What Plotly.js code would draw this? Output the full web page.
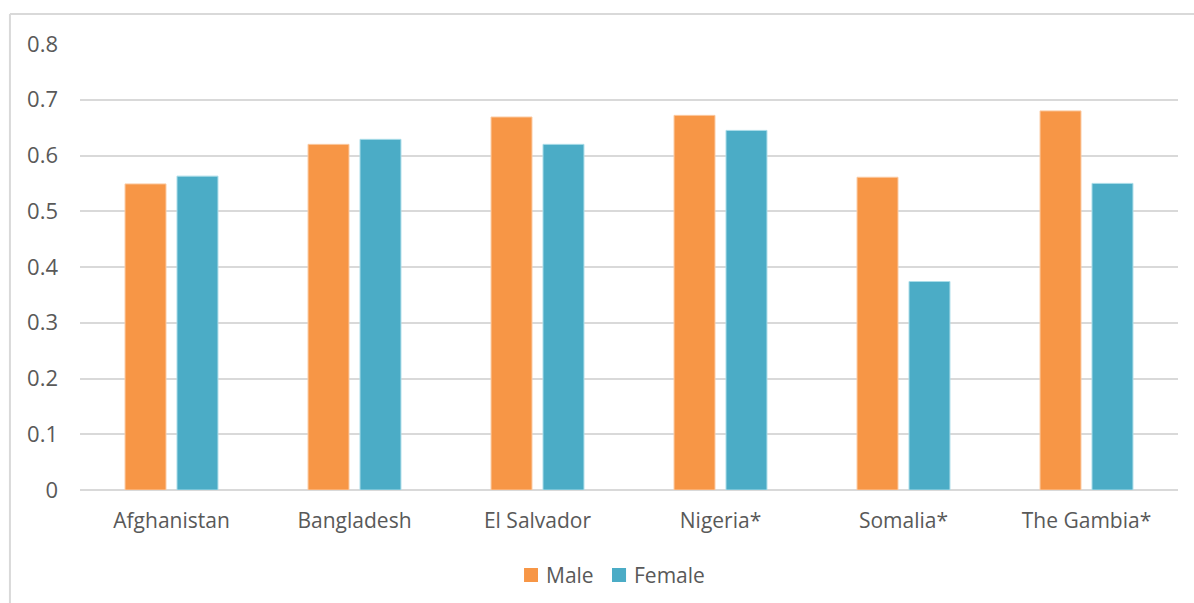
<!DOCTYPE html>
<html>
<head>
<meta charset="utf-8">
<script src="https://cdn.plot.ly/plotly-3.0.1.min.js"></script>
<style>
  html, body { margin: 0; padding: 0; background: #fff; }
  #chart { width: 1194px; height: 603px; }
</style>
</head>
<body>
<div id="chart"></div>
<script>
// Countries shown on the category axis
const countries = ['Afghanistan', 'Bangladesh', 'El Salvador', 'Nigeria*', 'Somalia*', 'The Gambia*'];
// Index values per country
const maleValues = [0.549, 0.620, 0.669, 0.672, 0.561, 0.680];
const femaleValues = [0.563, 0.629, 0.620, 0.645, 0.374, 0.550];
// Value axis ticks
const yTicks = [0, 0.1, 0.2, 0.3, 0.4, 0.5, 0.6, 0.7, 0.8];
const yTickLabels = ['0', '0.1', '0.2', '0.3', '0.4', '0.5', '0.6', '0.7', '0.8'];
// Series names and colours
const seriesNames = ['Male', 'Female'];
const seriesColors = ['#F79646', '#4BACC6'];
const seriesEdges = ['#FBC9A0', '#A9DCE8'];

const textColor = '#595959';
const fontFamily = '"Open Sans", "Noto Sans", sans-serif';

const traces = [maleValues, femaleValues].map((vals, i) => ({
  type: 'bar', name: seriesNames[i], x: countries, y: vals,
  marker: { color: seriesColors[i], line: { color: seriesEdges[i], width: 1 } },
  hoverinfo: 'x+y'
}));

// Legend keys laid out below the axis, in paper coordinates
const legendKeys = [
  { sq: [0.4044, 0.4171], tx: 0.4226 },
  { sq: [0.4845, 0.4973], tx: 0.5027 }
];
const legendShapes = legendKeys.map((k, i) => ({
  type: 'rect', xref: 'paper', yref: 'paper',
  x0: k.sq[0], x1: k.sq[1], y0: -0.2063, y1: -0.1749,
  fillcolor: seriesColors[i], line: { width: 0 }
}));
const legendTexts = legendKeys.map((k, i) => ({
  xref: 'paper', yref: 'paper', x: k.tx, y: -0.1906,
  xanchor: 'left', yanchor: 'middle', showarrow: false,
  text: seriesNames[i], font: { size: 21, color: textColor }
}));

const layout = {
  width: 1194, height: 603,
  margin: { l: 80, r: 16, t: 44, b: 113 },
  paper_bgcolor: '#fff', plot_bgcolor: '#fff',
  font: { family: fontFamily, color: textColor, size: 21 },
  barmode: 'group', bargap: 0.432, bargroupgap: 0.212,
  showlegend: false,
  xaxis: {
    type: 'category', showgrid: false, zeroline: false,
    showline: false, ticks: '', tickfont: { size: 21, color: textColor },
    ticklabelstandoff: 16
  },
  yaxis: {
    range: [0, 0.8], tickvals: yTicks, ticktext: yTickLabels,
    showgrid: true, gridcolor: '#D9D9D9', gridwidth: 2,
    zeroline: true, zerolinecolor: '#D9D9D9', zerolinewidth: 2,
    showline: false, ticks: '', tickfont: { size: 22, color: textColor },
    ticklabelstandoff: 21
  },
  shapes: [
    // frame around the chart area (left and top edges visible)
    { type: 'line', xref: 'paper', yref: 'paper', x0: -0.0638, x1: 1.05, y0: 1.0673, y1: 1.0673,
      line: { color: '#D9D9D9', width: 2 } },
    { type: 'line', xref: 'paper', yref: 'paper', x0: -0.0638, x1: -0.0638, y0: 1.0673, y1: -0.3,
      line: { color: '#D9D9D9', width: 2 } }
  ].concat(legendShapes),
  annotations: legendTexts
};

Plotly.newPlot('chart', traces, layout, { displayModeBar: false, staticPlot: true });
</script>
</body>
</html>
